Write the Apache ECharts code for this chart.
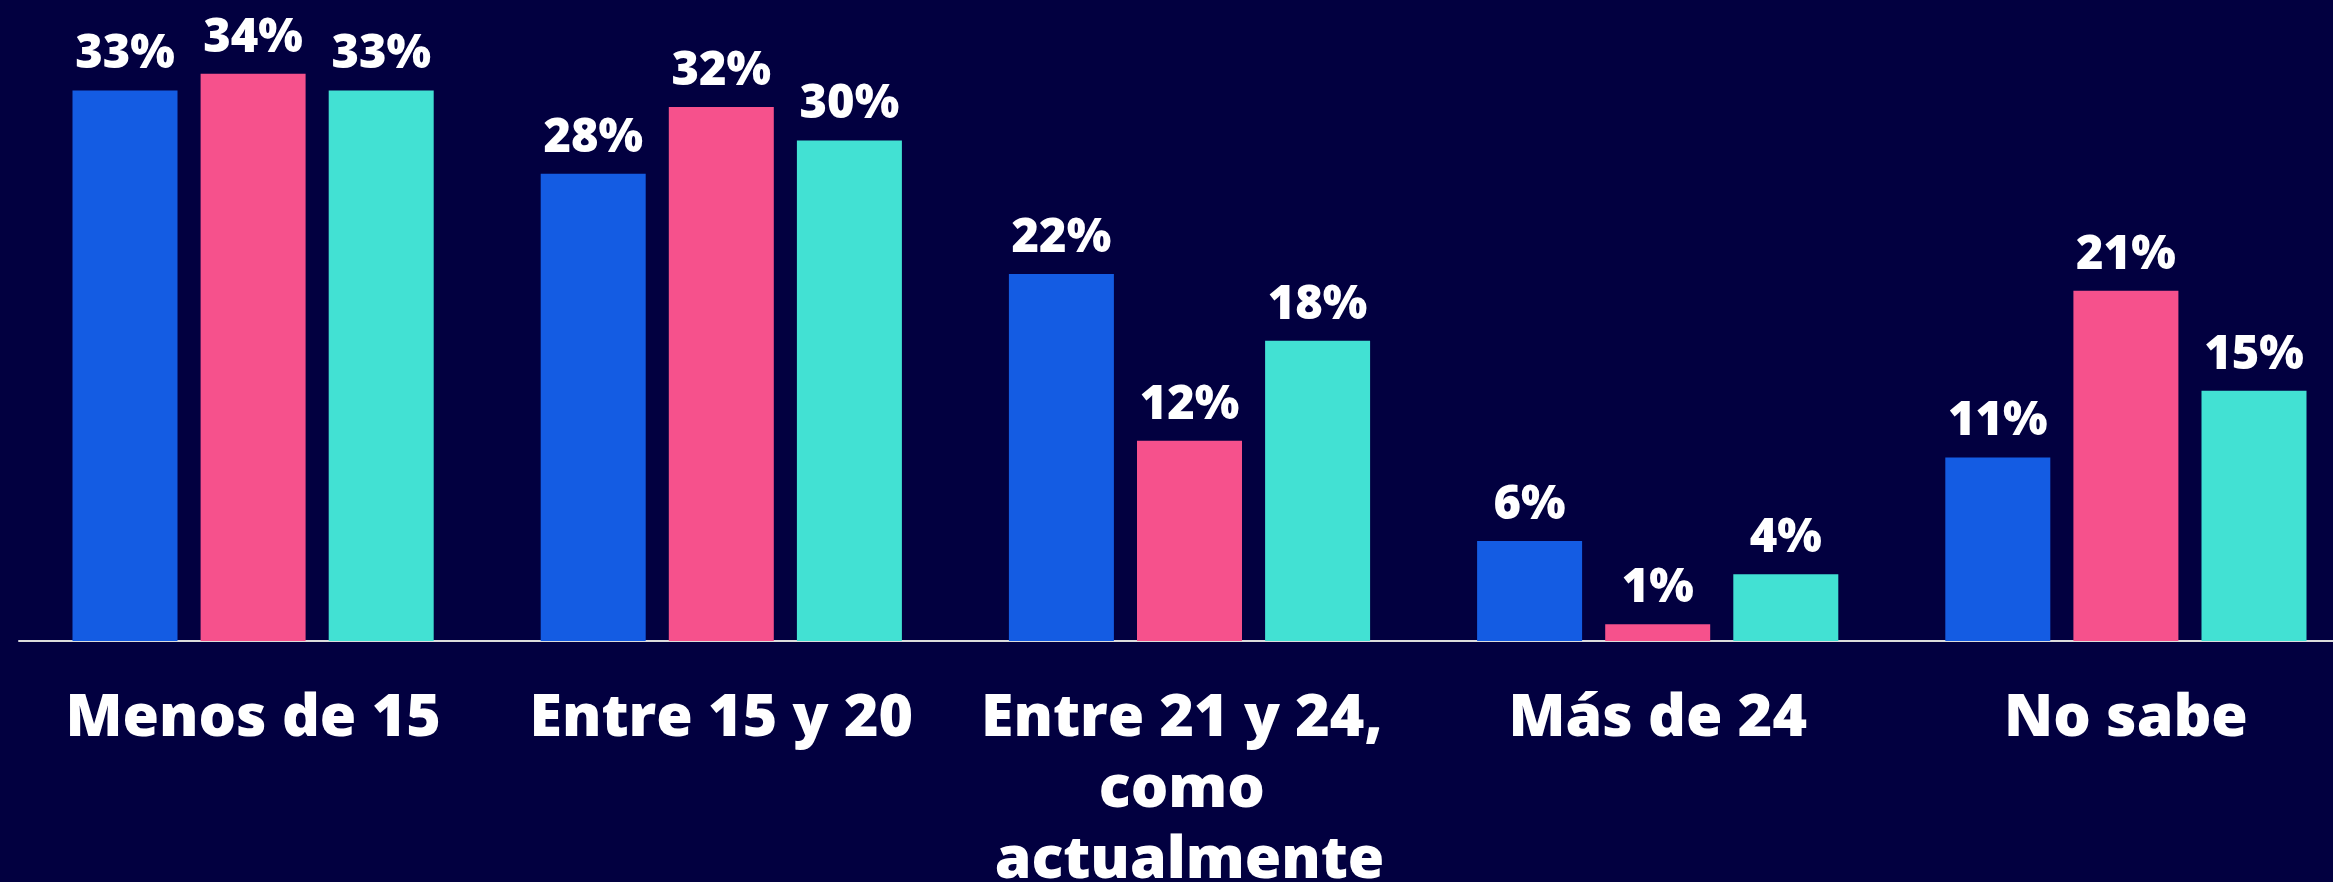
<!DOCTYPE html>
<html lang="es">
<head>
    <meta charset="UTF-8">
    <title>Edad</title>
    <script src="https://cdn.jsdelivr.net/npm/echarts@6/dist/echarts.min.js"></script>
    <style>
        html, body { margin: 0; padding: 0; background: #020040; overflow: hidden; }
    </style>
</head>
<body>

<!-- el gráfico es algo más ancho que la ventana: el último grupo toca el borde -->
<div id="main" style="width: 2360px;height:882px;"></div>
<script type="text/javascript">
    var chart = echarts.init(document.getElementById('main'));

    var categorias = ['Menos de 15', 'Entre 15 y 20', 'Entre 21 y 24, como actualmente', 'Más de 24', 'No sabe'];
    var serieAzul = [33, 28, 22, 6, 11];
    var serieRosa = [34, 32, 12, 1, 21];
    var serieTurquesa = [33, 30, 18, 4, 15];

    var fuente = '"Open Sans", "Noto Sans", sans-serif';

    function barra(nombre, datos, color) {
        return {
            name: nombre,
            type: 'bar',
            data: datos,
            barWidth: 105,
            barGap: '22%',
            itemStyle: { color: color },
            label: {
                show: true,
                position: 'top',
                distance: 12,
                formatter: '{c}%',
                color: '#ffffff',
                fontFamily: fuente,
                fontWeight: 800,
                fontSize: 47
            }
        };
    }

    var option = {
        backgroundColor: '#020040',
        animation: false,
        grid: {
            left: 19,
            right: 0,
            top: 7,
            bottom: 241,
            outerBoundsMode: 'none'
        },
        xAxis: {
            type: 'category',
            data: categorias,
            axisLine: { lineStyle: { color: '#dcdcdc', width: 2 } },
            axisTick: { show: false },
            axisLabel: {
                color: '#ffffff',
                fontFamily: fuente,
                fontWeight: 800,
                fontSize: 59,
                lineHeight: 71,
                margin: 43,
                width: 440,
                overflow: 'break',
                interval: 0
            }
        },
        yAxis: {
            type: 'value',
            min: 0,
            max: 38,
            show: false,
            splitLine: { show: false }
        },
        series: [
            barra('A', serieAzul, '#145ce3'),
            barra('B', serieRosa, '#f6518c'),
            barra('C', serieTurquesa, '#42e1d3')
        ]
    };

    chart.setOption(option);
</script>
</body>
</html>
